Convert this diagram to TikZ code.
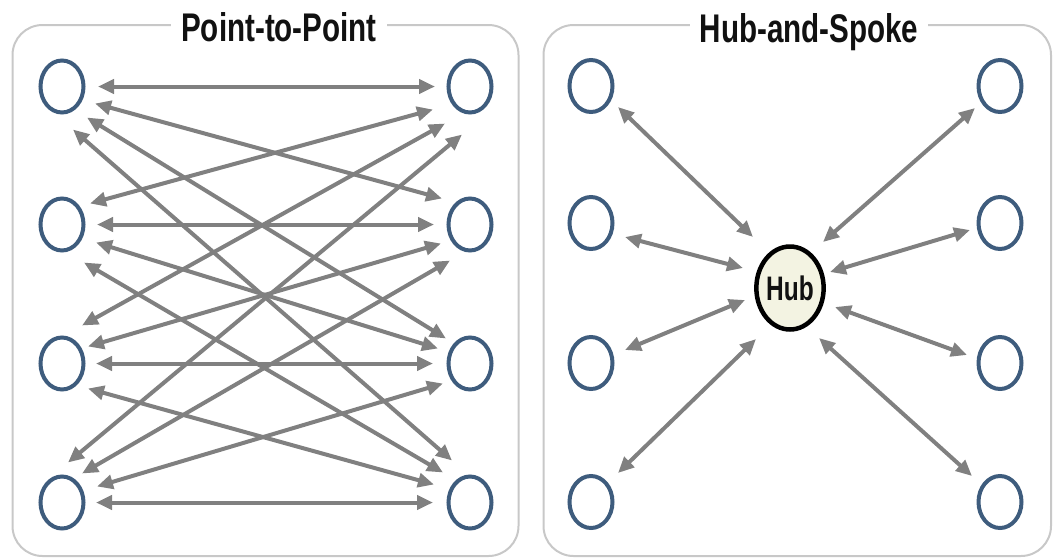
\documentclass[tikz,border=0pt]{standalone}
\usepackage{fontspec}
\usepackage{graphicx}
\setmainfont{Liberation Sans}
\usetikzlibrary{arrows.meta,shapes.geometric}
\definecolor{nodeblue}{RGB}{62,92,125}
\definecolor{linkgray}{RGB}{128,128,128}
\definecolor{panelgray}{RGB}{200,200,200}
\definecolor{hubfill}{RGB}{243,243,226}
\definecolor{textblack}{RGB}{17,17,17}
\tikzset{
  spoke/.style={draw=nodeblue, line width=4pt, ellipse, minimum width=43pt, minimum height=52pt, inner sep=0pt},
  hubnode/.style={draw=black, fill=hubfill, line width=4.5pt, ellipse, minimum width=67pt, minimum height=83pt, inner sep=0pt, text=textblack, font=\bfseries\fontsize{34}{34}\selectfont},
  link/.style={draw=linkgray, line width=4pt, {Triangle[length=16pt,width=14pt]}-{Triangle[length=16pt,width=14pt]}},
  panel/.style={draw=panelgray, line width=2pt, rounded corners=30pt},
  paneltitle/.style={fill=white, inner xsep=10pt, inner ysep=2pt, anchor=base, text=textblack, font=\bfseries\fontsize{40}{40}\selectfont}
}
\newcommand\pplink[4]{\draw[link] ([shift={#2}]#1.center) -- ([shift={#4}]#3.center);}
\begin{document}
\begin{tikzpicture}[x=1pt,y=-1pt]
\useasboundingbox (0,0) rectangle (1053,558);
% panels
\draw[panel] (12.5,25) rectangle (518.5,556);
\draw[panel] (543.5,25) rectangle (1051,556);
\node[paneltitle] (t1) at (279,41) {\scalebox{0.74}[1]{Point-to-Point}};
\node[paneltitle] (t2) at (809,42) {\scalebox{0.74}[1]{Hub-and-Spoke}};
% point-to-point nodes
\node[spoke] (L1) at (62,86.5) {};
\node[spoke] (L2) at (62,224.5) {};
\node[spoke] (L3) at (62,363.5) {};
\node[spoke] (L4) at (62,502.5) {};
\node[spoke] (R1) at (470,86.5) {};
\node[spoke] (R2) at (470,224.5) {};
\node[spoke] (R3) at (470,363.5) {};
\node[spoke] (R4) at (470,502.5) {};
% point-to-point links
\pplink{L1}{(36,0)}{R1}{(-35,0)}
\pplink{L1}{(33,17)}{R2}{(-28,-26)}
\pplink{L1}{(25,31)}{R3}{(-24,-25)}
\pplink{L1}{(11,43)}{R4}{(-18,-42)}
\pplink{L2}{(28,-21)}{R1}{(-37,23)}
\pplink{L2}{(35,0)}{R2}{(-36,0)}
\pplink{L2}{(34,18)}{R3}{(-32,-15)}
\pplink{L2}{(22,38)}{R4}{(-27,-30)}
\pplink{L3}{(20,-38)}{R1}{(-25,37)}
\pplink{L3}{(26,-17)}{R2}{(-29,19)}
\pplink{L3}{(34,0)}{R3}{(-37,0)}
\pplink{L3}{(26,25)}{R4}{(-36,-18)}
\pplink{L4}{(6,-40)}{R1}{(-8,48)}
\pplink{L4}{(20,-29)}{R2}{(-20,36)}
\pplink{L4}{(35,-16)}{R3}{(-27,20)}
\pplink{L4}{(34,0)}{R4}{(-37,0)}
% hub-and-spoke nodes
\node[hubnode] (hub) at (790,288) {\scalebox{0.72}[1]{Hub}};
\node[spoke] (A1) at (591,86) {};
\node[spoke] (A2) at (591,223) {};
\node[spoke] (A3) at (591,363) {};
\node[spoke] (A4) at (591,502) {};
\node[spoke] (B1) at (1000,86) {};
\node[spoke] (B2) at (1000,223) {};
\node[spoke] (B3) at (1000,363) {};
\node[spoke] (B4) at (1000,502) {};
% hub links
\pplink{hub}{(-37,-51)}{A1}{(27,21)}
\pplink{hub}{(-47,-20)}{A2}{(34,14)}
\pplink{hub}{(-45,12)}{A3}{(34,-13)}
\pplink{hub}{(-34,51)}{A4}{(27,-29)}
\pplink{hub}{(33,-46)}{B1}{(-25,22)}
\pplink{hub}{(40,-16)}{B2}{(-30,7)}
\pplink{hub}{(45,19)}{B3}{(-33,-8)}
\pplink{hub}{(29,50)}{B4}{(-28,-26)}
\end{tikzpicture}
\end{document}
